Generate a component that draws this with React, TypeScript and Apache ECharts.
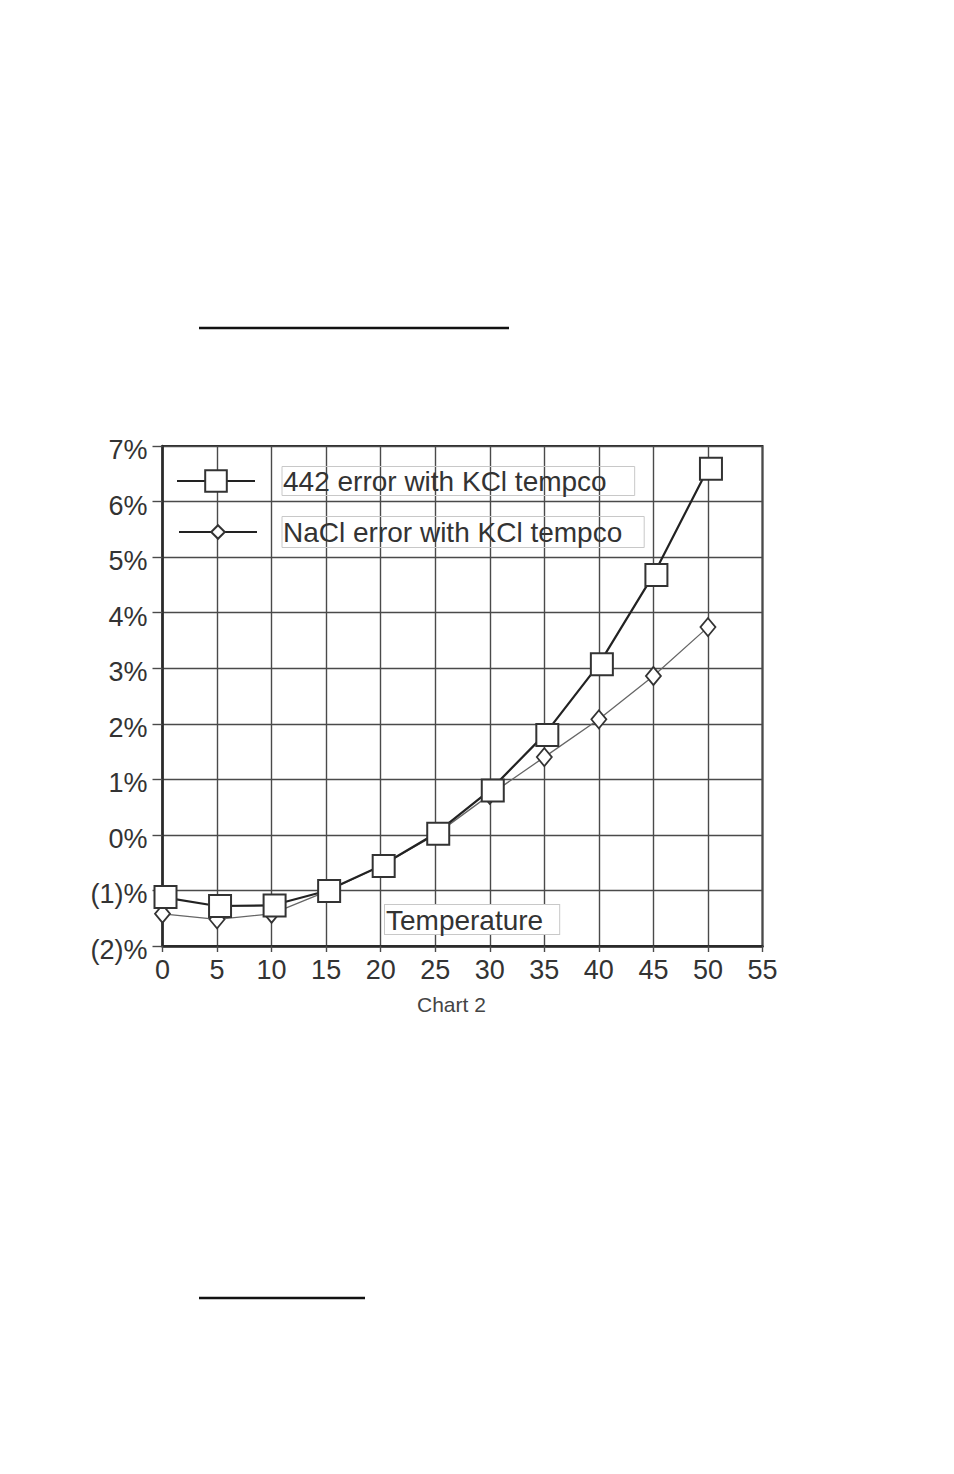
import React, { useEffect, useRef } from "react";
import * as echarts from "echarts";

const temps = [0, 5, 10, 15, 20, 25, 30, 35, 40, 45, 50];
const err442 = [-1.12, -1.28, -1.27, -1.01, -0.56, 0.02, 0.8, 1.8, 3.07, 4.68, 6.59];
const errNaCl = [-1.42, -1.52, -1.42, -1.02, -0.56, 0.0, 0.72, 1.4, 2.08, 2.86, 3.74];
const seriesNames = ["442 error with KCl tempco", "NaCl error with KCl tempco"];
const yTickLabels = ["(2)%", "(1)%", "0%", "1%", "2%", "3%", "4%", "5%", "6%", "7%"];
const xAxisTitle = "Temperature";
const captionText = "Chart 2";

const FONT = "'Liberation Sans', Arial, Helvetica, sans-serif";

export default function App() {
  const ref = useRef<HTMLDivElement>(null);
  useEffect(() => {
    if (!ref.current) return;
    const chart = echarts.init(ref.current, null, { renderer: "svg" });
    const pts442 = temps.map((t, i) => [t, err442[i]]);
    const ptsNaCl = temps.map((t, i) => [t, errNaCl[i]]);
    const boxText = (padding: number[]) => ({
      fontSize: 28,
      fontFamily: FONT,
      color: "#333",
      borderColor: "#c8c8c8",
      borderWidth: 1,
      padding,
      lineHeight: 28,
    });
    chart.setOption({
      animation: false,
      backgroundColor: "#ffffff",
      textStyle: { fontFamily: FONT },
      title: {
        text: captionText,
        left: 417,
        top: 994,
        padding: 0,
        textStyle: { fontSize: 21, fontWeight: "normal", color: "#444", fontFamily: FONT },
      },
      grid: {
        left: 162.5,
        right: 954 - 762.5,
        top: 446,
        bottom: 1474 - 946,
        show: true,
        borderColor: "#2a2a2a",
        borderWidth: 2,
        backgroundColor: "transparent",
      },
      legend: [
        {
          data: [seriesNames[0]],
          orient: "vertical",
          left: 176,
          top: 466,
          padding: 0,
          itemWidth: 78,
          itemHeight: 27,
          selectedMode: false,
          lineStyle: { color: "#222", width: 2 },
          formatter: (n: string) => `{g|}{b|${n}}`,
          textStyle: { rich: { g: { width: 22 }, b: boxText([1, 28, 0, 1]) } },
        },
        {
          data: [seriesNames[1]],
          orient: "vertical",
          left: 178,
          top: 516,
          padding: 0,
          itemWidth: 78,
          itemHeight: 17,
          selectedMode: false,
          lineStyle: { color: "#222", width: 2 },
          formatter: (n: string) => `{g|}{b|${n}}`,
          textStyle: { rich: { g: { width: 20 }, b: boxText([2, 22, 1, 1]) } },
        },
      ],
      xAxis: {
        type: "value",
        min: 0,
        max: 55,
        interval: 5,
        axisLine: { show: true, onZero: false, lineStyle: { color: "#2a2a2a", width: 2.5 } },
        axisTick: { show: true, length: 6, lineStyle: { color: "#4a4a4a", width: 1.4 } },
        axisLabel: { fontSize: 27, color: "#333", margin: 10, fontFamily: FONT },
        splitLine: { show: true, lineStyle: { color: "#4a4a4a", width: 1.4 } },
      },
      yAxis: {
        type: "value",
        min: -2,
        max: 7,
        interval: 1,
        axisLine: { show: true, onZero: false, lineStyle: { color: "#2a2a2a", width: 2.5 } },
        axisTick: { show: true, length: 10, lineStyle: { color: "#4a4a4a", width: 1.4 } },
        axisLabel: {
          fontSize: 27,
          color: "#333",
          margin: 15,
          fontFamily: FONT,
          formatter: (v: number) => `{a|${yTickLabels[Math.round(v) + 2]}}`,
          rich: { a: { fontSize: 27, color: "#333", fontFamily: FONT, padding: [8, 0, 0, 0] } },
        },
        splitLine: { show: true, lineStyle: { color: "#4a4a4a", width: 1.4 } },
      },
      series: [
        {
          name: seriesNames[1],
          type: "line",
          data: ptsNaCl,
          symbol: "diamond",
          symbolSize: [15, 18],
          lineStyle: { color: "#666", width: 1.3 },
          itemStyle: { color: "#ffffff", borderColor: "#333", borderWidth: 1.8 },
          z: 2,
        },
        {
          name: seriesNames[0],
          type: "line",
          data: pts442,
          symbol: "rect",
          symbolSize: 22,
          symbolOffset: [3, 0],
          lineStyle: { color: "#222", width: 2.2 },
          itemStyle: { color: "#ffffff", borderColor: "#333", borderWidth: 2 },
          z: 3,
        },
      ],
      graphic: [
        {
          type: "text",
          x: 385,
          y: 905,
          z: 10,
          style: {
            text: xAxisTitle,
            fontSize: 28,
            fontFamily: FONT,
            fill: "#333",
            backgroundColor: "#ffffff",
            borderColor: "#c8c8c8",
            borderWidth: 1,
            padding: [1, 16, 0, 1],
            lineHeight: 28,
          },
        },
        {
          type: "line",
          shape: { x1: 199, y1: 328, x2: 509, y2: 328 },
          style: { stroke: "#111", lineWidth: 2.4 },
        },
        {
          type: "line",
          shape: { x1: 199, y1: 1298, x2: 365, y2: 1298 },
          style: { stroke: "#111", lineWidth: 2.4 },
        },
      ],
    });
    return () => chart.dispose();
  }, []);
  return (
    <div
      ref={ref}
      style={{ position: "absolute", left: 0, top: 0, width: 954, height: 1474, background: "#fff" }}
    />
  );
}
